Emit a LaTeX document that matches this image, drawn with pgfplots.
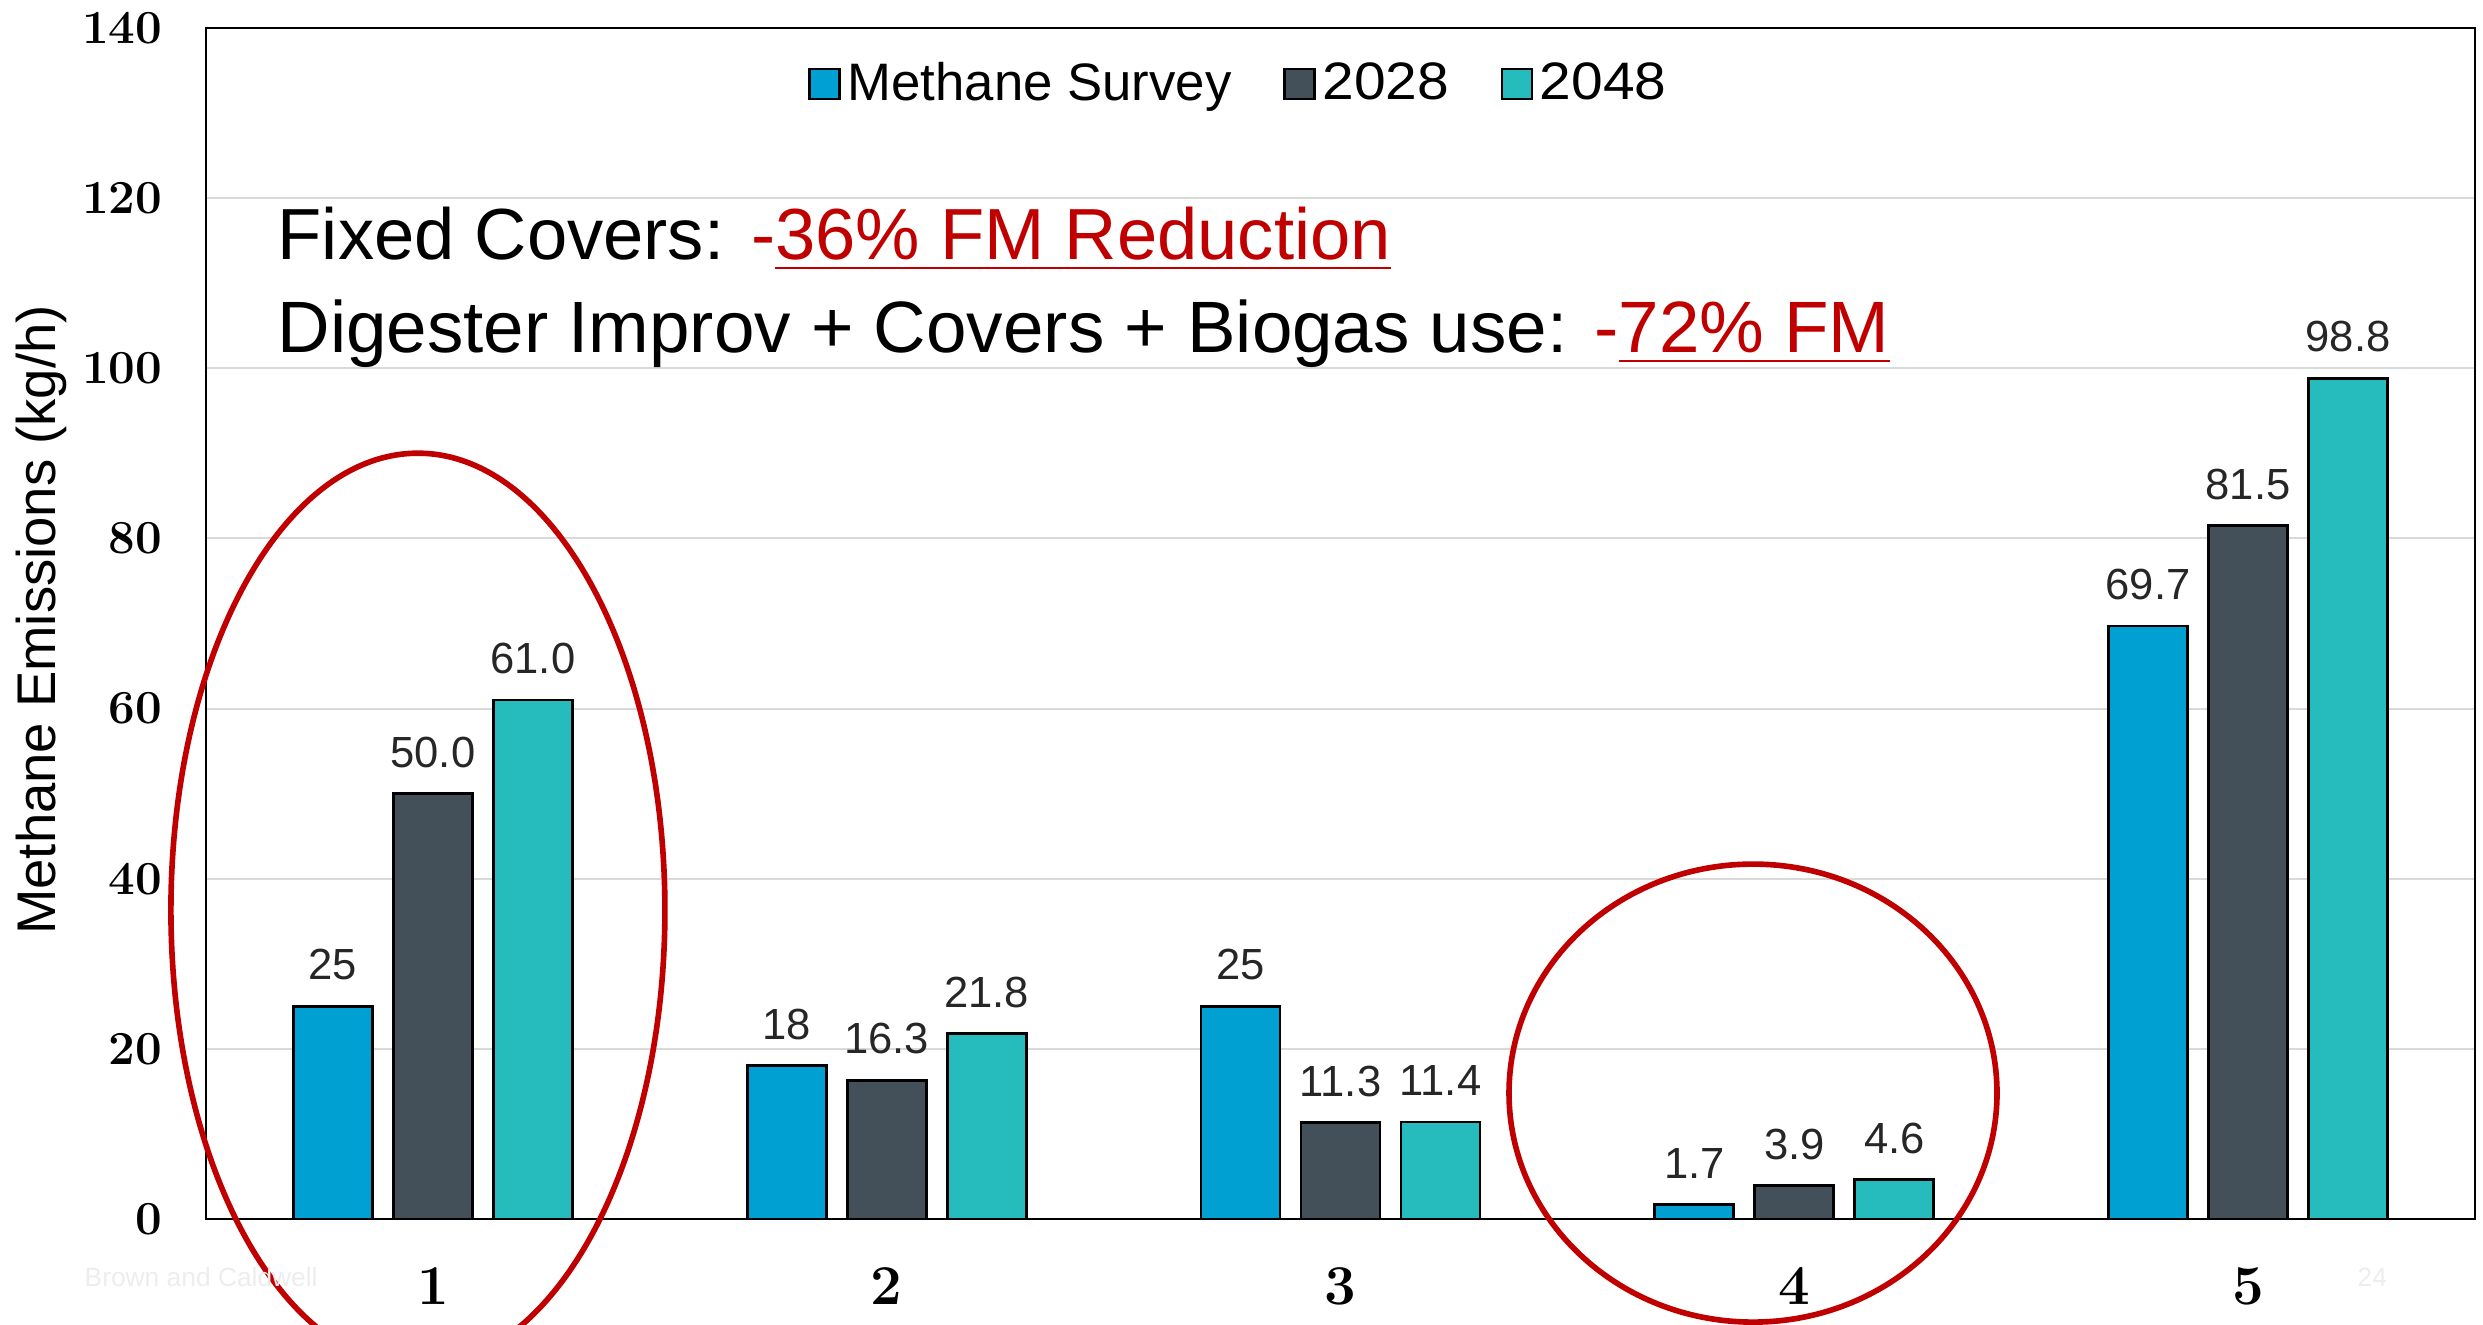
\documentclass[border=0pt]{standalone}
\usepackage{fontspec}
\usepackage{graphicx}
\usepackage{pgfplots}
\pgfplotsset{compat=1.18}
\newfontfamily\arial{Liberation Sans}
\definecolor{cBlue}{RGB}{0,160,210}
\definecolor{cDark}{RGB}{67,80,89}
\definecolor{cTeal}{RGB}{38,188,190}
\definecolor{cRed}{RGB}{192,0,0}
\definecolor{cGrid}{RGB}{217,217,217}
\newcommand\ul[1]{\leavevmode\setbox0\hbox{#1}\dp0=0pt\vtop{\box0\kern1.9pt\hrule height 0.77pt}}
\begin{document}
\begin{tikzpicture}
\begin{axis}[name=ax, scale only axis, width=22.69cm, height=11.91cm,
 xmin=0.5, xmax=5.5, ymin=0, ymax=140,
 xtick={1,2,3,4,5}, ytick={0,20,...,140},
 ymajorgrids, grid style={cGrid, line width=0.6pt},
 major tick length=0pt,
 axis line style={line width=0.7pt, black},
 ybar=0.21cm, bar width=0.79cm,
 /pgf/number format/assume math mode=true,
 yticklabel style={font=\fontsize{13.5}{16}\selectfont\bfseries, anchor=east, inner sep=0pt, xshift=-0.43cm},
 xticklabel style={font=\fontsize{16}{19}\selectfont\bfseries, anchor=center, inner sep=0pt, yshift=-0.67cm},
 ylabel={Methane Emissions (kg/h)},
 ylabel style={font=\arial\fontsize{15.5}{18}\selectfont, at={(axis description cs:-0.0727,0.503)}, anchor=center},
 clip=false,
 legend columns=3,
 legend style={draw=none, fill=none, inner sep=0pt, outer sep=0pt, at={(axis description cs:0.2655,0.953)}, anchor=west, font=\arial\fontsize{15}{18}\selectfont, nodes={inner sep=0.065cm}, /tikz/every even column/.append style={column sep=0.45cm}},
 legend image code/.code={\draw[#1, line width=0.8pt] (0cm,-0.15cm) rectangle (0.3cm,0.15cm);},
 point meta=explicit symbolic,
 nodes near coords,
 every node near coord/.append style={font=\arial\fontsize{12.4}{15}\selectfont, text=black!85, yshift=3.7pt},
]
\addplot[fill=cBlue, draw=black, line width=0.8pt] coordinates {(1,25)[25] (2,18)[18] (3,25)[25] (4,1.7)[1.7] (5,69.7)[69.7]};
\addlegendentry{Methane Survey}
\addplot[fill=cDark, draw=black, line width=0.8pt] coordinates {(1,50.0)[50.0] (2,16.3)[16.3] (3,11.3)[11.3] (4,3.9)[3.9] (5,81.5)[81.5]};
\addlegendentry{\scalebox{1.08}[1]{2028}}
\addplot[fill=cTeal, draw=black, line width=0.8pt] coordinates {(1,61.0)[61.0] (2,21.8)[21.8] (3,11.4)[11.4] (4,4.6)[4.6] (5,98.8)[98.8]};
\addlegendentry{\scalebox{1.08}[1]{2048}}
\draw[cRed, line width=1.6pt] (axis cs:0.967,36.3) ellipse [x radius=2.47cm, y radius=4.57cm];
\draw[cRed, line width=1.6pt] (axis cs:3.909,14.8) ellipse [x radius=2.44cm, y radius=2.29cm];
\end{axis}
\node[anchor=base west, inner sep=0pt, font=\arial\fontsize{20.6}{25}\selectfont] at ([shift={(0.71cm,-2.32cm)}]ax.north west) {Fixed Covers: \textcolor{cRed}{-\ul{36\% FM Reduction}}};
\node[anchor=base west, inner sep=0pt, font=\arial\fontsize{20.7}{25}\selectfont] at ([shift={(0.71cm,-3.25cm)}]ax.north west) {Digester Improv + Covers + Biogas use: \textcolor{cRed}{-\ul{72\% FM}}};
\node[anchor=west, inner sep=0pt, font=\arial\fontsize{7.5}{9}\selectfont, text=black!7] at ([shift={(-1.22cm,-0.58cm)}]ax.south west) {Brown and Caldwell};
\node[anchor=west, inner sep=0pt, font=\arial\fontsize{7.5}{9}\selectfont, text=black!7] at ([shift={(21.51cm,-0.58cm)}]ax.south west) {24};
\pgfresetboundingbox
\path[use as bounding box] ([shift={(-2.06cm,-1.05cm)}]ax.south west) rectangle ([shift={(0.08cm,0.28cm)}]ax.north east);
\end{tikzpicture}
\end{document}
